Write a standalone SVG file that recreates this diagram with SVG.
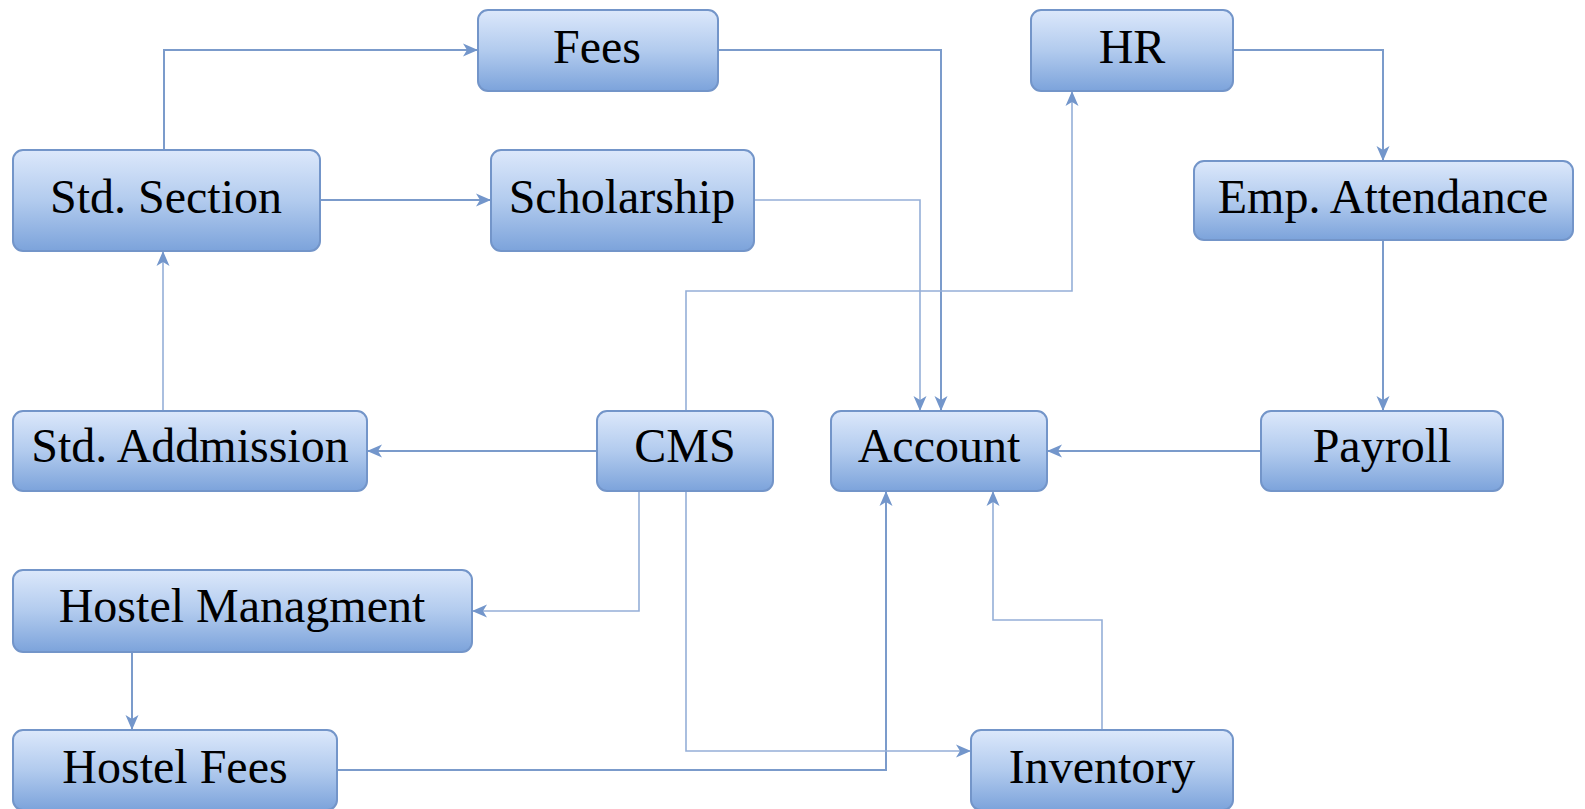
<svg xmlns="http://www.w3.org/2000/svg" width="1585" height="809" viewBox="0 0 1585 809">
<defs>
<linearGradient id="g" x1="0" y1="0" x2="0" y2="1">
<stop offset="0" stop-color="#dce8fb"/>
<stop offset="0.5" stop-color="#b2cbee"/>
<stop offset="1" stop-color="#7ca3db"/>
</linearGradient>
<marker id="ah" markerUnits="userSpaceOnUse" markerWidth="16" markerHeight="14" viewBox="0 0 16 14" refX="15" refY="7" orient="auto">
<path d="M0,0.5 L15,7 L0,13.5 L4,7 z" fill="#7396cb"/>
</marker>
<style>
.box{fill:url(#g);stroke:#7395c9;stroke-width:2}
.lbl{font-family:"Liberation Serif","Times New Roman",serif;font-size:48px;fill:#000;text-anchor:middle}
.c{fill:none;stroke:#7b9bcb;stroke-width:2;marker-end:url(#ah)}
.c.t{stroke:#95afd8;stroke-width:1.6}
</style>
</defs>
<rect width="1585" height="809" fill="#fff"/>
<g id="connectors">
<path class="c" d="M164,150 V50 H478"/>
<path class="c" d="M320,200 H491"/>
<path class="c" d="M718,50 H941 V411"/>
<path class="c t" d="M754,200 H920 V411"/>
<path class="c" d="M1233,50 H1383 V161"/>
<path class="c" d="M1383,240 V411"/>
<path class="c" d="M1261,451 H1047"/>
<path class="c" d="M597,451 H367"/>
<path class="c t" d="M163,411 V251"/>
<path class="c t" d="M686,411 V291 H1072 V91"/>
<path class="c t" d="M639,491 V611 H472"/>
<path class="c" d="M132,652 V730"/>
<path class="c" d="M337,770 H886 V491"/>
<path class="c t" d="M686,491 V751 H971"/>
<path class="c t" d="M1102,730 V620 H993 V491"/>
</g>
<g id="fees"><rect class="box" x="478" y="10" width="240" height="81" rx="10"/><text class="lbl" x="597" y="63">Fees</text></g>
<g id="hr"><rect class="box" x="1031" y="10" width="202" height="81" rx="10"/><text class="lbl" x="1132" y="63">HR</text></g>
<g id="std-section"><rect class="box" x="13" y="150" width="307" height="101" rx="10"/><text class="lbl" x="166" y="213">Std. Section</text></g>
<g id="scholarship"><rect class="box" x="491" y="150" width="263" height="101" rx="10"/><text class="lbl" x="622" y="213">Scholarship</text></g>
<g id="emp-attendance"><rect class="box" x="1194" y="161" width="379" height="79" rx="10"/><text class="lbl" x="1383" y="213">Emp. Attendance</text></g>
<g id="std-addmission"><rect class="box" x="13" y="411" width="354" height="80" rx="10"/><text class="lbl" x="190" y="462">Std. Addmission</text></g>
<g id="cms"><rect class="box" x="597" y="411" width="176" height="80" rx="10"/><text class="lbl" x="685" y="462">CMS</text></g>
<g id="account"><rect class="box" x="831" y="411" width="216" height="80" rx="10"/><text class="lbl" x="939" y="462">Account</text></g>
<g id="payroll"><rect class="box" x="1261" y="411" width="242" height="80" rx="10"/><text class="lbl" x="1382" y="462">Payroll</text></g>
<g id="hostel-managment"><rect class="box" x="13" y="570" width="459" height="82" rx="10"/><text class="lbl" x="242" y="622">Hostel Managment</text></g>
<g id="hostel-fees"><rect class="box" x="13" y="730" width="324" height="80" rx="10"/><text class="lbl" x="175" y="783">Hostel Fees</text></g>
<g id="inventory"><rect class="box" x="971" y="730" width="262" height="80" rx="10"/><text class="lbl" x="1102" y="783">Inventory</text></g>
</svg>
